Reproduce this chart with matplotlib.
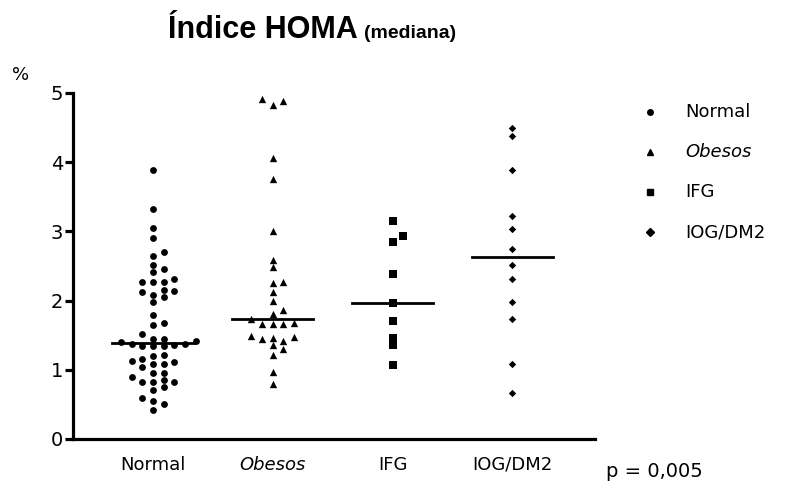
import numpy as np
import matplotlib
matplotlib.use("Agg")
import matplotlib.pyplot as plt

# HOMA values
categories = ["Normal", "Obesos", "IFG", "IOG/DM2"]
normal = [3.89, 3.32, 3.05, 2.90, 2.70, 2.64, 2.52, 2.46, 2.42,
          2.27, 2.27, 2.31, 2.27, 2.12, 2.05, 2.14, 2.15, 2.08, 1.98,
          1.79, 1.65, 1.68, 1.52,
          1.41, 1.35, 1.40, 1.37, 1.36, 1.44, 1.34, 1.44, 1.34, 1.37,
          1.22, 1.15, 1.11, 1.08, 1.04, 1.08, 1.13, 1.20,
          0.96, 0.89, 0.96, 0.83, 0.82, 0.83, 0.75, 0.85, 0.71,
          0.55, 0.59, 0.51, 0.42]
obesos = [4.92, 4.89, 4.83, 4.06, 3.75, 3.00, 2.59, 2.48, 2.27, 2.25,
          2.12, 2.00, 1.86, 1.80, 1.73, 1.66, 1.66, 1.66, 1.68,
          1.48, 1.44, 1.36, 1.41, 1.46, 1.49, 1.30, 1.21, 0.97, 0.79]
ifg = [3.15, 2.94, 2.85, 2.39, 1.97, 1.71, 1.46, 1.36, 1.07]
iog = [4.50, 4.38, 3.88, 3.22, 3.03, 2.74, 2.52, 2.31, 1.98, 1.74, 1.09, 0.67]

groups = [normal, obesos, ifg, iog]
markers = ["o", "^", "s", "D"]
msizes = [24, 28, 30, 14]


def swarm_offsets(vals, step=0.089, gap=0.095):
    # place points in discrete columns so close values don't overlap
    order = np.argsort(vals)
    slots = [0, 1, -1, 2, -2, 3, -3, 4, -4, 5, -5]
    placed = {}
    offs = np.zeros(len(vals))
    for i in order:
        v = vals[i]
        for s in slots:
            if all(abs(v - w) >= gap for w in placed.get(s, [])):
                placed.setdefault(s, []).append(v)
                offs[i] = s * step
                break
    return offs


fig = plt.figure(figsize=(8.01, 4.84), dpi=100)
ax = fig.add_axes([0.0911, 0.093, 0.6517, 0.7149])

for k, (vals, m, ms) in enumerate(zip(groups, markers, msizes)):
    vals = np.array(vals)
    x = k + 1 + swarm_offsets(vals)
    ax.scatter(x, vals, marker=m, s=ms, color="black", linewidths=0, zorder=3)
    med = np.median(vals)
    ax.plot([k + 1 - 0.34, k + 1 + 0.34], [med, med], color="black", lw=2, zorder=2)

ax.set_xlim(0.333, 4.69)
ax.set_ylim(0, 5)
for s in ["top", "right"]:
    ax.spines[s].set_visible(False)
for s in ["left", "bottom"]:
    ax.spines[s].set_linewidth(2.3)
ax.set_yticks([0, 1, 2, 3, 4, 5])
ax.tick_params(axis="y", length=6, width=2.3, labelsize=14, pad=1)
ax.set_xticks([1, 2, 3, 4])
ax.set_xticklabels(categories)
ax.tick_params(axis="x", length=0, labelsize=13, pad=12)
ax.get_xticklabels()[1].set_style("italic")

fig.text(0.21, 0.921, "Índice HOMA", fontsize=22, fontweight="bold",
         family="Liberation Sans", va="baseline")
fig.text(0.455, 0.921, "(mediana)", fontsize=14, fontweight="bold",
         family="Liberation Sans", va="baseline")
fig.text(0.015, 0.835, "%", fontsize=13)
fig.text(0.757, 0.015, "p = 0,005", fontsize=14)

# legend drawn as marker + label rows
for k, (name, m) in enumerate(zip(categories, markers)):
    yy = 0.768 - k * 0.0826
    fig.lines.append(plt.Line2D([0.812], [yy], marker=m, markersize=4,
                                color="black", lw=0, transform=fig.transFigure))
    fig.text(0.855, yy, name, fontsize=13, va="center",
             style="italic" if name == "Obesos" else "normal")

fig.savefig("out.png", dpi=100, facecolor="white")
